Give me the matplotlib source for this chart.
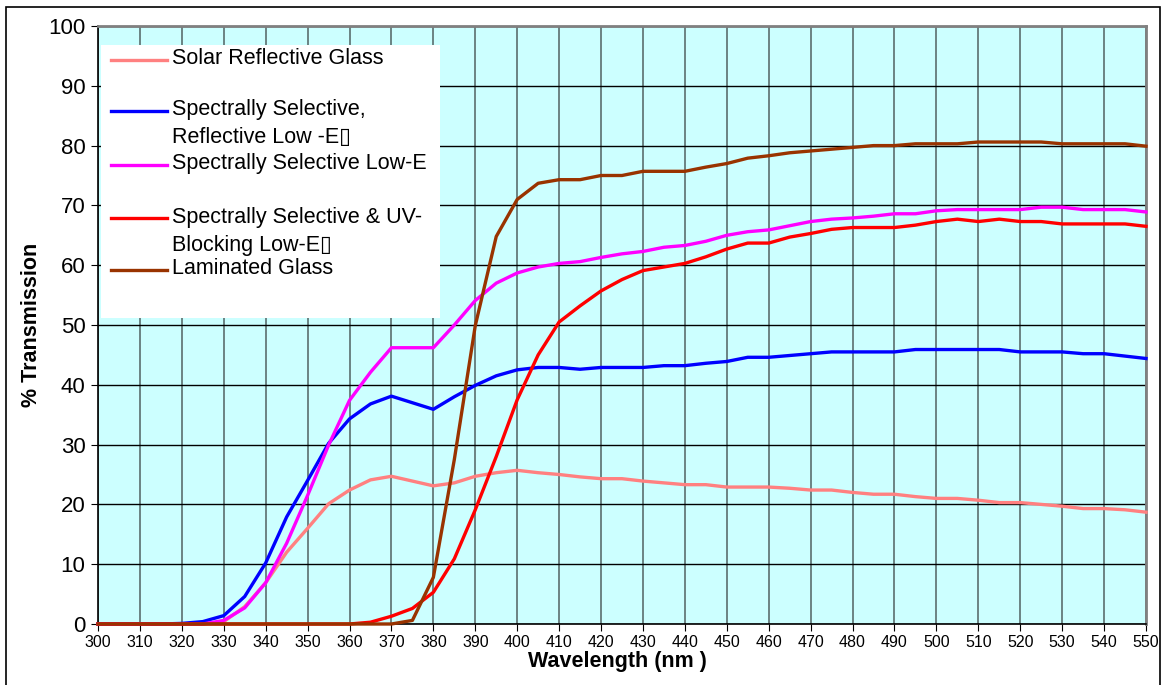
import matplotlib.pyplot as plt
from matplotlib.patches import Rectangle
from matplotlib.lines import Line2D

plt.rcParams['font.family'] = ['Liberation Sans', 'DejaVu Sans']

# Data (5 nm steps)
wavelength = [300, 305, 310, 315, 320, 325, 330, 335, 340, 345, 350, 355, 360,
              365, 370, 375, 380, 385, 390, 395, 400, 405, 410, 415, 420, 425,
              430, 435, 440, 445, 450, 455, 460, 465, 470, 475, 480, 485, 490,
              495, 500, 505, 510, 515, 520, 525, 530, 535, 540, 545, 550]

solar_reflective = [0, 0, 0, 0, 0, 0, 0.4, 2.9, 6.9, 12.0, 16.0, 20.1, 22.4,
                    24.1, 24.7, 23.9, 23.1, 23.6, 24.7, 25.3, 25.7, 25.3, 25.0, 24.6, 24.3, 24.3,
                    23.9, 23.6, 23.3, 23.3, 22.9, 22.9, 22.9, 22.7, 22.4, 22.4, 22.0, 21.7, 21.7,
                    21.3, 21.0, 21.0, 20.7, 20.3, 20.3, 20.0, 19.7, 19.3, 19.3, 19.1, 18.7]

sel_reflective = [0, 0, 0, 0, 0.1, 0.4, 1.4, 4.6, 10.2, 17.9, 24.0, 30.2, 34.3,
                  36.8, 38.1, 37.0, 35.9, 38.0, 39.9, 41.5, 42.5, 42.9, 42.9, 42.6, 42.9, 42.9,
                  42.9, 43.2, 43.2, 43.6, 43.9, 44.6, 44.6, 44.9, 45.2, 45.5, 45.5, 45.5, 45.5,
                  45.9, 45.9, 45.9, 45.9, 45.9, 45.5, 45.5, 45.5, 45.2, 45.2, 44.8, 44.4]

sel_lowe = [0, 0, 0, 0, 0, 0, 0.6, 2.7, 6.9, 13.5, 21.5, 29.9, 37.4,
            42.1, 46.2, 46.2, 46.2, 50.0, 54.1, 57.0, 58.7, 59.7, 60.3, 60.6, 61.3, 61.9,
            62.3, 63.0, 63.3, 64.0, 65.0, 65.6, 65.9, 66.6, 67.3, 67.7, 67.9, 68.2, 68.6,
            68.6, 69.1, 69.3, 69.3, 69.3, 69.3, 69.7, 69.7, 69.3, 69.3, 69.3, 68.9]

sel_uv = [0, 0, 0, 0, 0, 0, 0, 0, 0, 0, 0, 0, 0,
          0.3, 1.3, 2.6, 5.3, 10.9, 19.1, 28.0, 37.5, 45.0, 50.5, 53.2, 55.7, 57.6,
          59.1, 59.7, 60.3, 61.4, 62.7, 63.7, 63.7, 64.7, 65.3, 66.0, 66.3, 66.3, 66.3,
          66.7, 67.3, 67.7, 67.3, 67.7, 67.3, 67.3, 66.9, 66.9, 66.9, 66.9, 66.5]

laminated = [0, 0, 0, 0, 0, 0, 0, 0, 0, 0, 0, 0, 0,
             0, 0, 0.6, 7.8, 27.5, 49.9, 64.8, 71.0, 73.7, 74.3, 74.3, 75.0, 75.0,
             75.7, 75.7, 75.7, 76.4, 77.0, 77.9, 78.3, 78.8, 79.1, 79.4, 79.7, 80.0, 80.0,
             80.3, 80.3, 80.3, 80.6, 80.6, 80.6, 80.6, 80.3, 80.3, 80.3, 80.3, 79.9]

series = [
    (solar_reflective, "#FF8080", ["Solar Reflective Glass"]),
    (sel_reflective, "#0000FF", ["Spectrally Selective,", "Reflective Low -E\u25af"]),
    (sel_lowe, "#FF00FF", ["Spectrally Selective Low-E"]),
    (sel_uv, "#FF0000", ["Spectrally Selective & UV-", "Blocking Low-E\u25af"]),
    (laminated, "#993300", ["Laminated Glass"]),
]

W, H = 1162, 685
fig = plt.figure(figsize=(W / 100, H / 100), dpi=100)
ax = fig.add_axes([98 / W, 1 - 624 / H, 1048 / W, 598 / H])
ax.set_facecolor("#CCFFFF")

for vals, color, _ in series:
    ax.plot(wavelength, vals, color=color, lw=2.4, zorder=3, clip_on=False,
            solid_joinstyle="round")

ax.set_xlim(300, 550)
ax.set_ylim(0, 100)
ax.set_xticks(range(300, 551, 10))
ax.set_yticks(range(0, 101, 10))
ax.tick_params(axis="x", labelsize=11.5, length=5, pad=3)
ax.tick_params(axis="y", labelsize=16, length=5, pad=4)

ax.set_axisbelow(True)
ax.xaxis.grid(True, color="#5a6e6e", lw=1.2)
ax.yaxis.grid(True, color="black", lw=1)

for s in ["left", "bottom"]:
    ax.spines[s].set_color("black")
    ax.spines[s].set_linewidth(1.2)
for s in ["top", "right"]:
    ax.spines[s].set_color("#808080")
    ax.spines[s].set_linewidth(2)

# Axis labels
ax.set_xlabel("Wavelength (nm )", fontsize=15.5, fontweight="bold", va="center")
ax.xaxis.set_label_coords((617 - 98) / 1048, (624 - 662) / 598)
ax.set_ylabel("% Transmission", fontsize=15.5, fontweight="bold", va="center")
ax.yaxis.set_label_coords((32 - 98) / 1048, (624 - 325) / 598)

# Legend box (Excel style: handle on the first text line)
def ax_y(py):
    return (624 - py) / 598

ax.add_patch(Rectangle(((101 - 98) / 1048, ax_y(318)), (440 - 101) / 1048,
                       (318 - 45) / 598, transform=ax.transAxes,
                       facecolor="white", edgecolor="none", zorder=4))
handle_y = [60, 111, 165, 218, 270]
line_gap = 28
for (vals, color, lines), hy in zip(series, handle_y):
    ax.add_line(Line2D([(111 - 98) / 1048, (167 - 98) / 1048], [ax_y(hy), ax_y(hy)],
                       transform=ax.transAxes, color=color, lw=2.4, zorder=5))
    for i, txt in enumerate(lines):
        ax.text((172 - 98) / 1048, ax_y(hy - 1 + i * line_gap), txt,
                transform=ax.transAxes, fontsize=15.5, va="center", ha="left",
                zorder=5)

# Outer frame of the chart
fig.add_artist(Rectangle((6 / W, -0.05), (1160 - 6) / W, 1.05 - 7 / H,
                         transform=fig.transFigure, fill=False,
                         edgecolor="black", lw=1.2))

fig.savefig("out.png", dpi=100)
